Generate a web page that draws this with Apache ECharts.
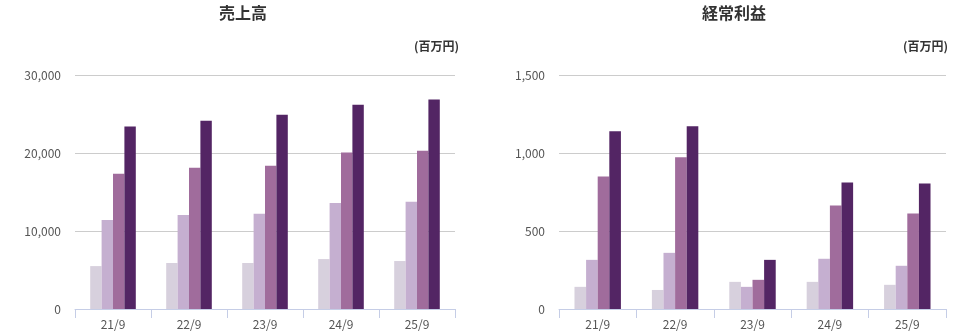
<!DOCTYPE html>
<html>
<head>
<meta charset="utf-8">
<script src="https://cdn.jsdelivr.net/npm/echarts@6/dist/echarts.min.js"></script>
<style>
html,body{margin:0;padding:0;background:#fff;}
#c{width:953px;height:335px;}
</style>
</head>
<body>
<div id="c"></div>
<script>
const categories = ['21/9', '22/9', '23/9', '24/9', '25/9'];
const salesQ1 = [5500, 5900, 5900, 6400, 6150];
const salesQ2 = [11400, 12050, 12200, 13600, 13750];
const salesQ3 = [17350, 18100, 18350, 20050, 20300];
const salesQ4 = [23400, 24150, 24900, 26200, 26850];
const profitQ1 = [142, 122, 174, 174, 155];
const profitQ2 = [315, 360, 142, 322, 277];
const profitQ3 = [850, 972, 187, 663, 612];
const profitQ4 = [1139, 1172, 315, 811, 805];
const salesTicks = [0, 10000, 20000, 30000];
const profitTicks = [0, 500, 1000, 1500];
const titles = ['売上高', '経常利益'];
const unitLabel = '(百万円)';

const colors = ['#d7d0dd', '#c5afd0', '#a06c9c', '#532564'];
const font = '"Noto Sans CJK JP", "Noto Sans", sans-serif';

const chart = echarts.init(document.getElementById('c'), null, {renderer: 'canvas'});

function xAxis(gridIndex) {
  return {
    type: 'category', gridIndex, data: categories,
    axisLine: {lineStyle: {color: '#c5cde6', width: 1}},
    axisTick: {show: true, length: 9, lineStyle: {color: '#c5cde6'}},
    axisLabel: {color: '#555', fontSize: 12, fontFamily: font, margin: 9}
  };
}
function yAxis(gridIndex, ticks) {
  return {
    type: 'value', gridIndex, min: ticks[0], max: ticks[ticks.length - 1],
    interval: ticks[1] - ticks[0],
    axisLine: {show: false}, axisTick: {show: false},
    splitLine: {lineStyle: {color: '#cccccc'}},
    axisLabel: {color: '#555', fontSize: 12, fontFamily: font, margin: 14,
      formatter: v => v.toLocaleString('en-US')}
  };
}
function bars(idx, arrs) {
  return arrs.map((d, i) => ({
    type: 'bar', xAxisIndex: idx, yAxisIndex: idx, data: d,
    itemStyle: {color: colors[i]}, barGap: '0%', barCategoryGap: '40%',
    silent: true
  }));
}

chart.setOption({
  animation: false,
  title: [
    {text: titles[0], left: 238, top: 0, textAlign: 'center',
      textStyle: {fontSize: 16, fontWeight: 'bold', color: '#333', fontFamily: font}},
    {text: titles[1], left: 729, top: 0, textAlign: 'center',
      textStyle: {fontSize: 16, fontWeight: 'bold', color: '#333', fontFamily: font}}
  ],
  graphic: [
    {type: 'text', right: 953 - 459, top: 40,
      style: {text: unitLabel, font: 'bold 12px ' + font, fill: '#333'}},
    {type: 'text', right: 5, top: 40,
      style: {text: unitLabel, font: 'bold 12px ' + font, fill: '#333'}}
  ],
  grid: [
    {left: 75, right: 498, top: 75, height: 234},
    {left: 559, right: 7, top: 75, height: 234}
  ],
  xAxis: [xAxis(0), xAxis(1)],
  yAxis: [yAxis(0, salesTicks), yAxis(1, profitTicks)],
  series: [
    ...bars(0, [salesQ1, salesQ2, salesQ3, salesQ4]),
    ...bars(1, [profitQ1, profitQ2, profitQ3, profitQ4])
  ]
});
</script>
</body>
</html>
